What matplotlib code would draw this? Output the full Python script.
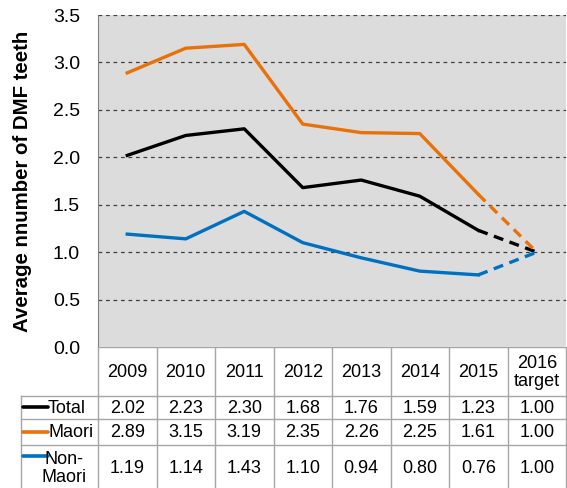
import matplotlib
matplotlib.use("Agg")
import matplotlib.pyplot as plt
import numpy as np

plt.rcParams["font.family"] = ["Liberation Sans", "DejaVu Sans"]

YEARS = ["2009", "2010", "2011", "2012", "2013", "2014", "2015", "2016\ntarget"]
TOTAL = [2.02, 2.23, 2.30, 1.68, 1.76, 1.59, 1.23, 1.00]
MAORI = [2.89, 3.15, 3.19, 2.35, 2.26, 2.25, 1.61, 1.00]
NON_MAORI = [1.19, 1.14, 1.43, 1.10, 0.94, 0.80, 0.76, 1.00]

SERIES = [
    ("Total", TOTAL, "#000000"),
    ("Maori", MAORI, "#e8710a"),
    ("Non-\nMaori", NON_MAORI, "#0070c0"),
]

W, H = 567, 488
fig = plt.figure(figsize=(W / 100, H / 100), dpi=100)

left, right, top, bottom = 98, 566, 15, 347
ax = fig.add_axes([left / W, 1 - bottom / H, (right - left) / W, (bottom - top) / H])
ax.set_facecolor("#dcdcdc")

x = np.arange(len(YEARS))
for name, vals, color in SERIES:
    ax.plot(x[:-1], vals[:-1], color=color, lw=2.4, solid_joinstyle="round")
    ax.plot(x[-2:], vals[-2:], color=color, lw=2.4, ls=(0, (3, 2)))

ax.set_xlim(-0.5, len(YEARS) - 0.5)
ax.set_ylim(0, 3.5)
yt = np.arange(0, 3.51, 0.5)
ax.set_yticks(yt)
ax.set_yticklabels([f"{v:.1f}" for v in yt], fontsize=14)
ax.tick_params(axis="y", length=0, pad=13)
ax.set_xticks([])
for v in yt[1:]:
    ax.axhline(v, color="#404040", lw=0.9, ls=(0, (3, 3)), zorder=0.5)
for s in ["top", "right", "bottom"]:
    ax.spines[s].set_visible(False)
ax.spines["left"].set_color("#808080")
ax.set_ylabel("Average nnumber of DMF teeth", fontsize=14.7, fontweight="bold")
ax.yaxis.set_label_coords((32 - left) / (right - left), 0.5)

# data table drawn below the plot, x in category units, y in pixels
cw = (right - left) / len(YEARS)
tab = fig.add_axes([0, 0, 1, 1 - bottom / H])
tab.set_xlim(-0.5 - left / cw, -0.5 + (W - left) / cw)
tab.set_ylim(H, bottom)
tab.axis("off")

lab_left = -0.5 - (left - 21) / cw
rows = [347, 396, 419, 445, 490]
gc = "#a6a6a6"
tab.plot([-0.5, len(YEARS) - 0.5], [rows[0], rows[0]], color=gc, lw=1)
for r in rows[1:4]:
    tab.plot([lab_left, len(YEARS) - 0.5], [r, r], color=gc, lw=1)
for i in range(len(YEARS) + 1):
    tab.plot([i - 0.5, i - 0.5], [rows[0], H], color=gc, lw=1)
tab.plot([lab_left, lab_left], [rows[1], H], color=gc, lw=1)

for i, yr in enumerate(YEARS):
    tab.text(i, (rows[0] + rows[1]) / 2 + 1, yr, ha="center", va="center", fontsize=13, linespacing=1.15)

for k, (name, vals, color) in enumerate(SERIES):
    yc = (rows[k + 1] + rows[k + 2]) / 2
    for i, v in enumerate(vals):
        tab.text(i, yc + 1, f"{v:.2f}", ha="center", va="center", fontsize=13)
    x0 = lab_left + 2 / cw
    x1 = lab_left + 27 / cw
    ly = yc if k < 2 else rows[k + 1] + 11
    tab.plot([x0, x1], [ly, ly], color=color, lw=2.6, solid_capstyle="round")
    if k < 2:
        tab.text(x1, yc + 1, name, ha="left", va="center", fontsize=13)
    else:
        tab.text(lab_left + 43 / cw, yc + 1, name, ha="center", va="center", fontsize=13, linespacing=1.05)

fig.savefig("out.png", dpi=100)
